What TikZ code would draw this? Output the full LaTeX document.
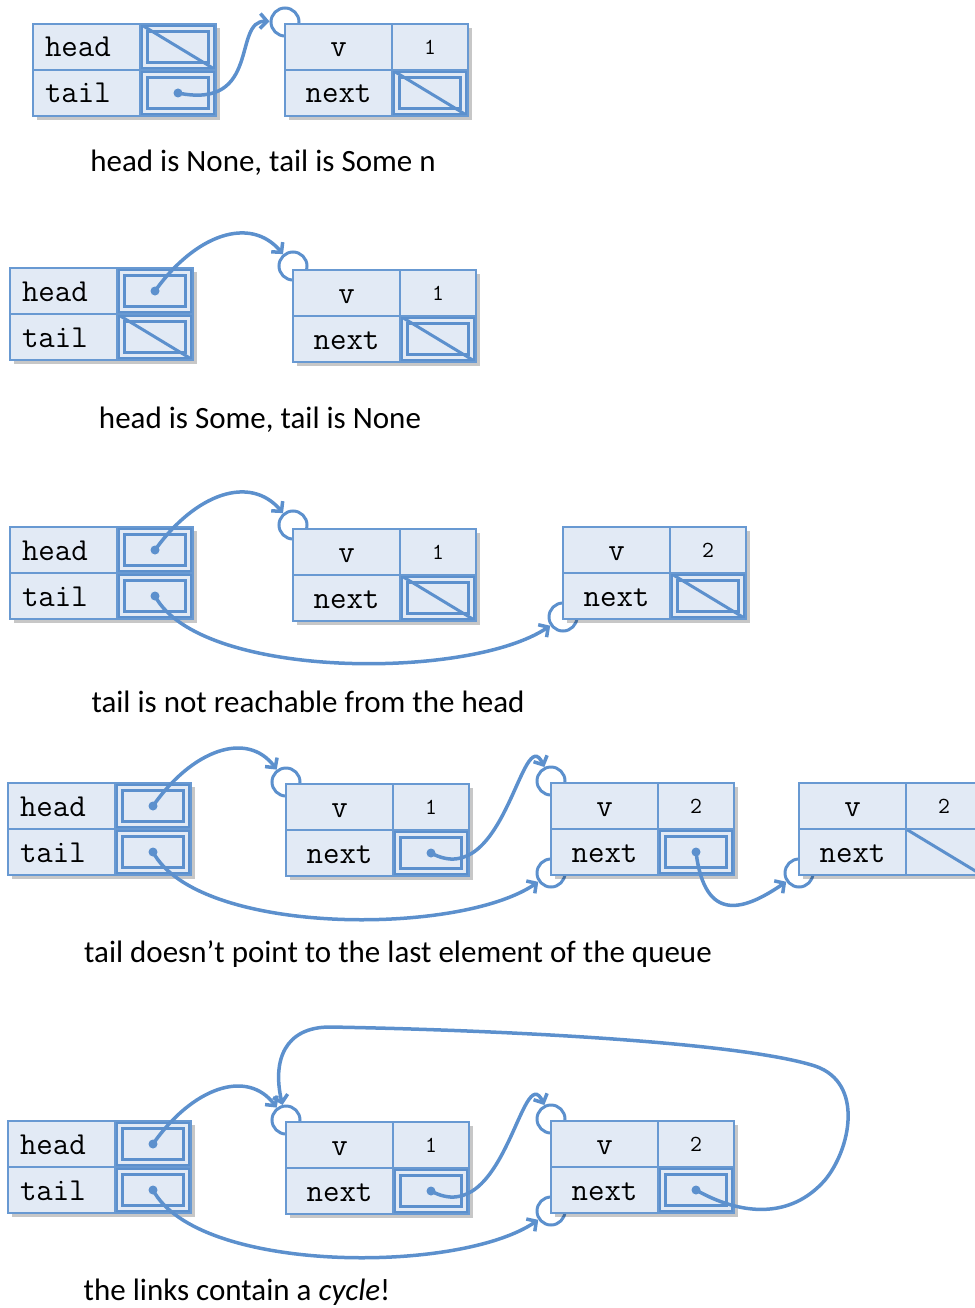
\documentclass[tikz,border=0pt]{standalone}
\usepackage{fontspec}
\setmainfont{Carlito}
\usetikzlibrary{positioning}
\usetikzlibrary{arrows.meta}

\definecolor{linkblue}{RGB}{92,144,205}
\definecolor{cellline}{RGB}{104,153,210}
\definecolor{cellfill}{RGB}{226,234,245}

\newcommand{\cellframes}{%
  \draw[linkblue, line width=3pt] ([shift={(1.5,-1.5)}]path picture bounding box.north west) rectangle ([shift={(-1.5,1.5)}]path picture bounding box.south east);
  \draw[linkblue, line width=2.5pt] ([shift={(7.5,-7.5)}]path picture bounding box.north west) rectangle ([shift={(-7.5,7.5)}]path picture bounding box.south east);}
\newcommand{\celldiag}{%
  \draw[linkblue, line width=3pt] (path picture bounding box.north west) -- (path picture bounding box.south east);}

\tikzset{
  cellbase/.style={draw=cellline, fill=cellfill, line width=1.5pt, minimum height=46pt,
    inner sep=0pt, outer sep=0pt, font=\ttfamily\fontsize{32}{34}\selectfont,
    text height=20pt, text depth=0pt},
  qcell/.style={cellbase, inner xsep=12pt, text width=83pt, align=left},
  vcell/.style={cellbase, minimum width=107pt},
  ncell/.style={cellbase, minimum width=76pt, font=\ttfamily\fontsize{23}{25}\selectfont, text height=15pt},
  ptrcell/.style={cellbase, minimum width=76pt, path picture={\cellframes}},
  nullcell/.style={cellbase, minimum width=76pt, path picture={\cellframes\celldiag}},
  diagcell/.style={cellbase, minimum width=76pt, path picture={\celldiag}},
  recshadow/.style={fill=black, opacity=0.22},
  ring/.style={circle, draw=linkblue, line width=3pt, minimum size=28pt, inner sep=0pt},
  link/.style={draw=linkblue, line width=3.5pt, -{Straight Barb[length=7pt,width=15pt]}},
  caption/.style={font=\fontsize{31}{36}\selectfont}
}

% queue record: name, x, y, head cell, tail cell
\newcommand{\queuerec}[5]{%
  \fill[recshadow] (#2+4,#3-4) rectangle ++(183,-92);
  \node[qcell, anchor=north west] (#1h) at (#2,#3) {head};
  \node[qcell, below=0pt of #1h] (#1t) {tail};
  \node[#4, right=0pt of #1h] (#1hp) {};
  \node[#5, right=0pt of #1t] (#1tp) {};
}
% list node record: name, x, y, value, next cell
\newcommand{\listrec}[5]{%
  \fill[recshadow] (#2+4,#3-4) rectangle ++(183,-92);
  \node[vcell, anchor=north west] (#1v) at (#2,#3) {v};
  \node[ncell, right=0pt of #1v] (#1val) {#4};
  \node[vcell, below=0pt of #1v] (#1n) {next};
  \node[#5, right=0pt of #1n] (#1np) {};
}

\begin{document}
\begin{tikzpicture}[x=1pt,y=1pt]
\useasboundingbox (0,0) rectangle (974,-1308);

% rings under the records
\node[ring] (na1top) at (285,-22) {};
\node[ring] (nb1top) at (293,-266) {};
\node[ring] (nc1top) at (293,-525) {};
\node[ring] (nc2bot) at (563,-617) {};
\node[ring] (nd1top) at (286,-782) {};
\node[ring] (nd2top) at (551,-781) {};
\node[ring] (nd2bot) at (551,-873) {};
\node[ring] (nd3bot) at (799,-873) {};
\node[ring] (ne1top) at (286,-1120) {};
\node[ring] (ne2top) at (551,-1119) {};
\node[ring] (ne2bot) at (551,-1211) {};

% head is None, tail is Some n
\queuerec{qa}{33}{-24}{nullcell}{ptrcell}
\listrec{na1}{285}{-24}{1}{nullcell}
\node[caption] (capa) at (263,-163) {head is None, tail is Some n};
\fill[linkblue] (qatp) circle (4.5);
\draw[link] (qatp.center) .. controls (262,-110) and (232,-20) .. (na1top);

% head is Some, tail is None
\queuerec{qb}{10}{-268}{ptrcell}{nullcell}
\listrec{nb1}{293}{-270}{1}{nullcell}
\node[caption] (capb) at (260,-420) {head is Some, tail is None};
\fill[linkblue] (qbhp) circle (4.5);
\draw[link] (qbhp.center) .. controls (195,-235) and (250,-215) .. (nb1top);

% tail is not reachable
\queuerec{qc}{10}{-527}{ptrcell}{ptrcell}
\listrec{nc1}{293}{-529}{1}{nullcell}
\listrec{nc2}{563}{-527}{2}{nullcell}
\node[caption] (capc) at (308,-702) {tail is not reachable from the head};
\fill[linkblue] (qchp) circle (4.5);
\fill[linkblue] (qctp) circle (4.5);
\draw[link] (qchp.center) .. controls (195,-494) and (250,-474) .. (nc1top);
\draw[link] (qctp.center) .. controls (200,-680) and (470,-680) .. (nc2bot);

% tail not at the last element
\queuerec{qd}{8}{-783}{ptrcell}{ptrcell}
\listrec{nd1}{286}{-784}{1}{ptrcell}
\listrec{nd2}{551}{-783}{2}{ptrcell}
\listrec{nd3}{799}{-783}{2}{diagcell}
\node[caption] (capd) at (398,-954) {tail doesn't point to the last element of the queue};
\fill[linkblue] (qdhp) circle (4.5);
\fill[linkblue] (qdtp) circle (4.5);
\fill[linkblue] (nd1np) circle (4.5);
\fill[linkblue] (nd2np) circle (4.5);
\draw[link] (qdhp.center) .. controls (192,-750) and (247,-730) .. (nd1top);
\draw[link] (qdtp.center) .. controls (198,-936) and (460,-936) .. (nd2bot);
\draw[link] (nd1np.center) .. controls (505,-893) and (522,-720) .. (nd2top);
\draw[link] (nd2np.center) .. controls (705,-925) and (745,-910) .. (nd3bot);

% the links contain a cycle
\queuerec{qe}{8}{-1121}{ptrcell}{ptrcell}
\listrec{ne1}{286}{-1122}{1}{ptrcell}
\listrec{ne2}{551}{-1121}{2}{ptrcell}
\node[caption] (cape) at (237,-1292) {the links contain a \emph{cycle}!};
\fill[linkblue] (qehp) circle (4.5);
\fill[linkblue] (qetp) circle (4.5);
\fill[linkblue] (ne1np) circle (4.5);
\fill[linkblue] (ne2np) circle (4.5);
\draw[link] (qehp.center) .. controls (192,-1088) and (247,-1068) .. (ne1top);
\draw[link] (qetp.center) .. controls (198,-1274) and (460,-1274) .. (ne2bot);
\draw[link] (ne1np.center) .. controls (505,-1231) and (522,-1058) .. (ne2top);
\draw[link] (ne2np.center) .. controls (740,-1215) and (790,-1220) .. (825,-1180)
  .. controls (850,-1150) and (865,-1083) .. (815,-1066)
  .. controls (740,-1042) and (500,-1030) .. (330,-1027)
  .. controls (285,-1027) and (272,-1060) .. (ne1top);
\end{tikzpicture}
\end{document}
